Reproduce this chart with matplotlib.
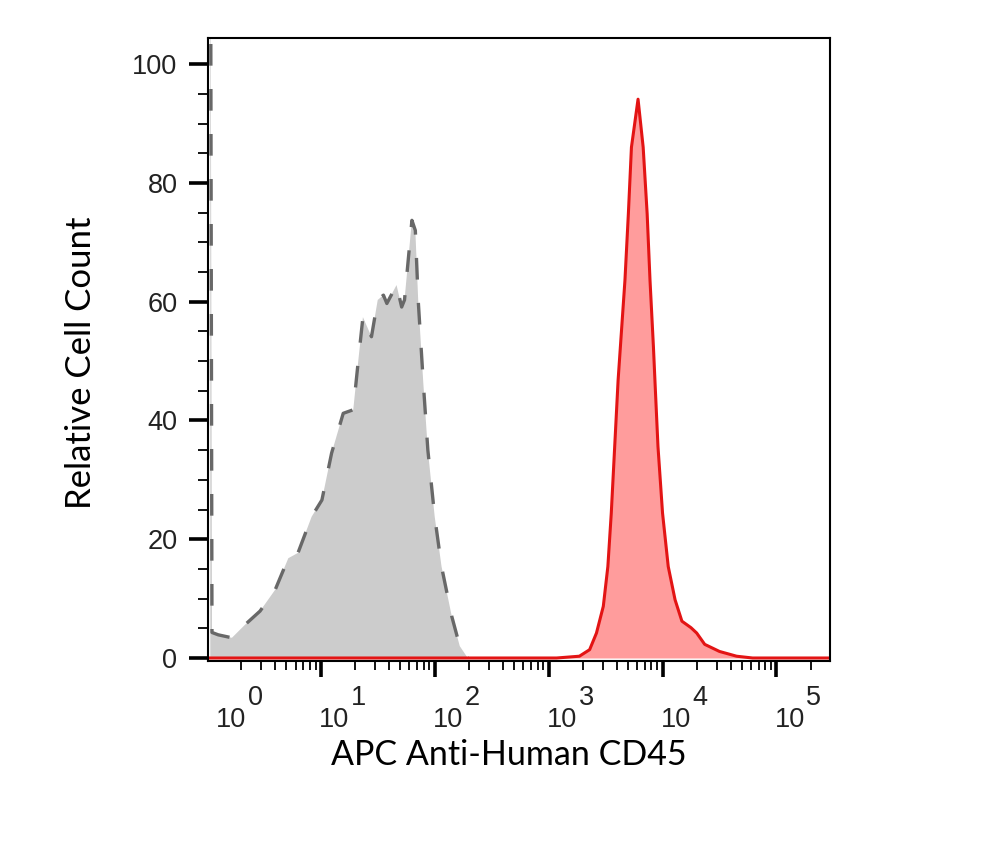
import matplotlib.pyplot as plt
import numpy as np
from matplotlib.ticker import FixedLocator, NullFormatter
import matplotlib.transforms as mtransforms

# log10 of intensity and relative count
gray_exp = [0.03, 0.045, 0.10, 0.22, 0.335, 0.467, 0.60, 0.715, 0.80, 0.92, 1.01,
            1.095, 1.197, 1.285, 1.33, 1.37, 1.445, 1.50, 1.55, 1.58, 1.665, 1.71,
            1.735, 1.80, 1.83, 1.855, 1.90, 1.94, 2.00, 2.06, 2.15, 2.22, 2.29]
gray_counts = [150, 4.3, 3.9, 3.4, 5.6, 7.9, 11.5, 16.8, 17.7, 23.8, 26.6,
               34.5, 41.2, 41.8, 50.2, 57.4, 54.1, 60.3, 61.1, 59.7, 62.8, 59.1,
               60.3, 73.7, 72.0, 60.3, 46.3, 35.0, 23.8, 15.4, 7.0, 2.0, 0.0]

red_exp = [0.0, 3.07, 3.27, 3.36, 3.42, 3.48, 3.52, 3.55, 3.58, 3.61, 3.63, 3.67,
           3.70, 3.727, 3.785, 3.83, 3.865, 3.89, 3.92, 3.935, 3.96, 4.00, 4.05,
           4.11, 4.17, 4.25, 4.30, 4.37, 4.50, 4.65, 4.79, 5.47]
red_counts = [0, 0, 0.3, 1.4, 4.2, 8.7, 15.4, 24.4, 35.6, 46.8, 52.4, 63.6,
              74.8, 86.0, 94.1, 86.0, 74.8, 63.6, 52.4, 46.0, 35.6, 24.4, 15.4,
              9.8, 6.2, 5.1, 4.2, 2.3, 1.1, 0.3, 0, 0]

decades = [0, 1, 2, 3, 4, 5]
y_ticks = [0, 20, 40, 60, 80, 100]

gray_x = 10.0 ** np.array(gray_exp)
red_x = 10.0 ** np.array(red_exp)

fig = plt.figure(figsize=(10, 8.64), dpi=100)
ax = fig.add_axes([0.208, 0.235, 0.622, 0.721])

ax.fill_between(gray_x, gray_counts, 0, color='#cccccc', lw=0)
ax.plot(gray_x, gray_counts, color='#686868', lw=2.4, ls=(0, (6.5, 7)))
ax.fill_between(red_x, red_counts, 0, color='#ff9c9c', lw=0)
ax.plot(red_x, red_counts, color='#e31414', lw=2.2)

ax.set_xscale('log')
ax.set_xlim(10 ** 0.01, 10 ** 5.47)
ax.set_ylim(-0.5, 104.4)

for s in ax.spines.values():
    s.set_linewidth(1.5)

# x ticks
ax.xaxis.set_major_locator(FixedLocator([10.0 ** d for d in decades]))
minors = [m * 10.0 ** d for d in range(0, 6) for m in range(2, 10)]
ax.xaxis.set_minor_locator(FixedLocator(minors))
ax.xaxis.set_major_formatter(NullFormatter())
ax.xaxis.set_minor_formatter(NullFormatter())
ax.tick_params(axis='x', which='major', direction='out', length=11.5, width=2.6)
ax.tick_params(axis='x', which='minor', direction='out', length=6.5, width=1.3)

# y ticks
ax.set_yticks(y_ticks)
ax.set_yticks(np.arange(0, 105, 5), minor=True)
ax.tick_params(axis='y', which='major', direction='out', length=14, width=2.6,
               labelsize=19.5, pad=8)
ax.tick_params(axis='y', which='minor', direction='out', length=7, width=1.3)
for lab in ax.get_yticklabels():
    lab.set_fontfamily('Liberation Sans')
    lab.set_color('#222222')

# decade labels drawn as "10" plus raised exponent
trans = mtransforms.blended_transform_factory(ax.transData, fig.transFigure)
for d in decades:
    xoff = 9 if d == 0 else -2
    t1 = mtransforms.offset_copy(trans, fig=fig, x=xoff * 0.72, y=0, units='points')
    ax.text(10.0 ** d, 1 - 727 / 864, '10', transform=t1, ha='left', va='baseline',
            fontsize=19.5, family='Liberation Sans', color='#222222', clip_on=False)
    t2 = mtransforms.offset_copy(trans, fig=fig, x=(xoff + 32) * 0.72, y=0, units='points')
    ax.text(10.0 ** d, 1 - 705 / 864, str(d), transform=t2, ha='left', va='baseline',
            fontsize=19.5, family='Liberation Sans', color='#222222', clip_on=False)

fig.text(0.509, 1 - 755 / 864, 'APC Anti-Human CD45', ha='center', va='center',
         fontsize=24.5, family='Lato')
fig.text(0.081, 1 - 363 / 864, 'Relative Cell Count', ha='center', va='center',
         rotation=90, fontsize=25, family='Lato')

fig.savefig('out.png', dpi=100)
